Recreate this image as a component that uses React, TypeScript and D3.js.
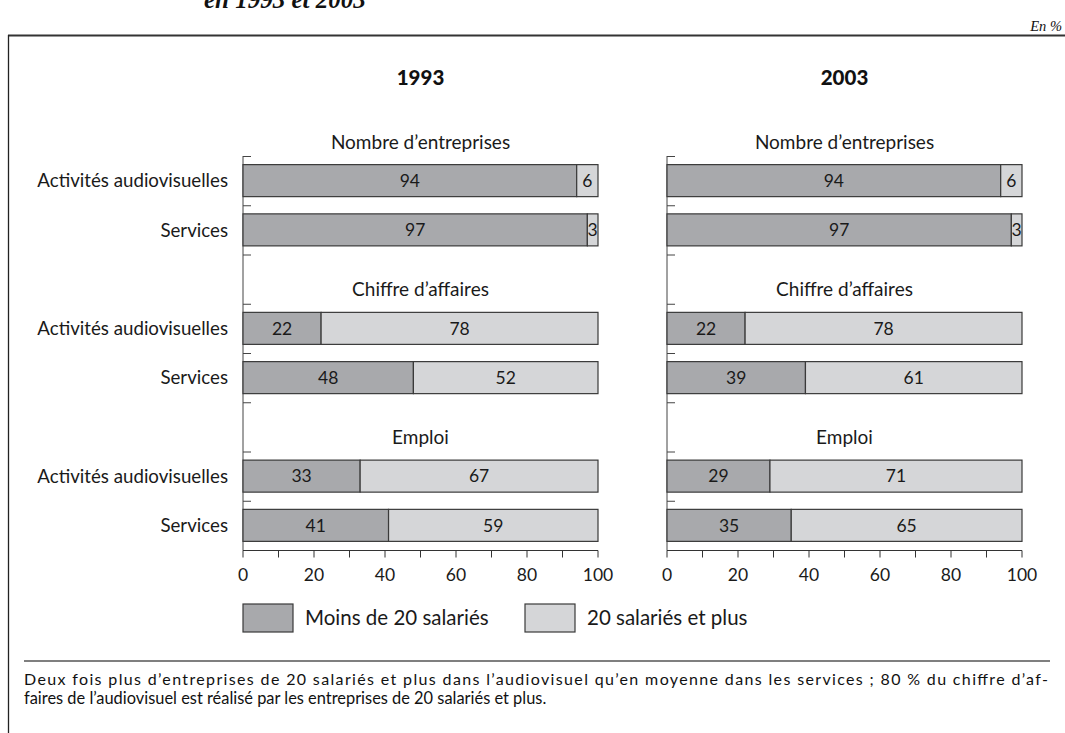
import React from "react";
import * as d3 from "d3";

const years = ["1993", "2003"];
const groups = ["Nombre d’entreprises", "Chiffre d’affaires", "Emploi"];
const categories = ["Activités audiovisuelles", "Services"];
const rowKeys = ["n-aa", "n-s", "gap1", "c-aa", "c-s", "gap2", "e-aa", "e-s"];
const barRows = ["n-aa", "n-s", "c-aa", "c-s", "e-aa", "e-s"];
const small1993 = [94, 97, 22, 48, 33, 41];
const large1993 = [6, 3, 78, 52, 67, 59];
const small2003 = [94, 97, 22, 39, 29, 35];
const large2003 = [6, 3, 78, 61, 71, 65];
const xTicks = [0, 20, 40, 60, 80, 100];
const minorTicks = [0, 10, 20, 30, 40, 50, 60, 70, 80, 90, 100];
const legendLabels = ["Moins de 20 salariés", "20 salariés et plus"];
const footer1 =
  "Deux fois plus d’entreprises de 20 salariés et plus dans l’audiovisuel qu’en moyenne dans les services ; 80\u202f% du chiffre d’af-";
const footer2 = "faires de l’audiovisuel est réalisé par les entreprises de 20 salariés et plus.";

const FONT = "Lato, 'Liberation Sans', sans-serif";
const DARK = "#a8a9ac";
const LIGHT = "#d5d6d8";
const STROKE = "#3a3a3a";

export default function App() {
  const panelX = [243, 667];
  const panelW = 355;
  const y = d3.scaleBand<string>().domain(rowKeys).range([156, 550]).paddingInner(0.35).paddingOuter(0.175);
  const yStep = d3.scaleBand<string>().domain(rowKeys).range([156, 550]);
  const axisY = 550.5;
  const data = [
    { small: small1993, large: large1993 },
    { small: small2003, large: large2003 },
  ];
  const titleRows = ["n-aa", "c-aa", "e-aa"];

  return (
    <svg
      width={1065}
      height={733}
      style={{ position: "absolute", left: 0, top: 0, background: "#fff" }}
      fontFamily={FONT}
    >
      {/* cut-off title (cropped in the reference too) */}
      <text x={204} y={8} fontFamily="'Liberation Serif', serif" fontWeight="bold" fontStyle="italic" fontSize={25} fill="#111">
        en 1993 et 2003
      </text>
      <text x={1062} y={31} textAnchor="end" fontFamily="'Liberation Serif', serif" fontStyle="italic" fontSize={14.5} fill="#111">
        En %
      </text>
      {/* frame */}
      <line x1={8} x2={1065} y1={35.5} y2={35.5} stroke="#333" strokeWidth={2} />
      <line x1={8.5} x2={8.5} y1={35} y2={733} stroke="#222" strokeWidth={1.3} />

      {data.map((d, pi) => {
        const x = d3.scaleLinear().domain([0, 100]).range([panelX[pi], panelX[pi] + panelW]);
        const cx = panelX[pi] + panelW / 2;
        return (
          <g key={pi}>
            <text x={cx} y={85} textAnchor="middle" fontWeight="900" fontSize={20.5} fill="#111">
              {years[pi]}
            </text>
            {groups.map((g, gi) => (
              <text key={g} x={cx} y={(y(titleRows[gi]) as number) - 16} textAnchor="middle" fontSize={19} fill="#1a1a1a">
                {g}
              </text>
            ))}
            {/* y axis */}
            <line x1={x(0)} x2={x(0)} y1={156} y2={axisY} stroke="#444" strokeWidth={1} />
            {rowKeys.map((k) => (
              <line key={k} x1={x(0)} x2={x(0) + 8} y1={(yStep(k) as number) + 0.5} y2={(yStep(k) as number) + 0.5} stroke="#444" strokeWidth={1} />
            ))}
            {/* bars */}
            {barRows.map((k, i) => {
              const by = y(k) as number;
              const bh = y.bandwidth();
              const s = d.small[i];
              const l = d.large[i];
              return (
                <g key={k}>
                  <rect x={x(0)} y={by} width={x(s) - x(0)} height={bh} fill={DARK} stroke={STROKE} strokeWidth={1.2} />
                  <rect x={x(s)} y={by} width={x(100) - x(s)} height={bh} fill={LIGHT} stroke={STROKE} strokeWidth={1.2} />
                  <text x={(x(0) + x(s)) / 2} y={by + bh / 2} dy="0.36em" textAnchor="middle" fontSize={17.5} fill="#1a1a1a">
                    {s}
                  </text>
                  <text x={(x(s) + x(100)) / 2} y={by + bh / 2} dy="0.36em" textAnchor="middle" fontSize={17.5} fill="#1a1a1a">
                    {l}
                  </text>
                  {pi === 0 && (
                    <text x={228} y={by + bh / 2} dy="0.36em" textAnchor="end" fontSize={18.7} fill="#1a1a1a">
                      {categories[i % 2]}
                    </text>
                  )}
                </g>
              );
            })}
            {/* x axis */}
            <line x1={x(0)} x2={x(100)} y1={axisY} y2={axisY} stroke="#333" strokeWidth={1.2} />
            {minorTicks.map((t) => (
              <line key={t} x1={x(t)} x2={x(t)} y1={axisY} y2={axisY + 7} stroke="#333" strokeWidth={1} />
            ))}
            {xTicks.map((t) => (
              <text key={t} x={x(t)} y={581} textAnchor="middle" fontSize={17.5} fill="#1a1a1a">
                {t}
              </text>
            ))}
          </g>
        );
      })}

      {/* legend */}
      {legendLabels.map((lab, i) => {
        const lx = [243, 525][i];
        return (
          <g key={lab}>
            <rect x={lx} y={604} width={50} height={28} fill={i === 0 ? DARK : LIGHT} stroke={STROKE} strokeWidth={1.2} />
            <text x={lx + 62} y={625} fontSize={20.5} fill="#1a1a1a">
              {lab}
            </text>
          </g>
        );
      })}

      {/* footer */}
      <line x1={24} x2={1050} y1={661} y2={661} stroke="#555" strokeWidth={1.5} />
      <text x={24} y={685} fontSize={16} fill="#111" textLength={1024} lengthAdjust="spacing">
        {footer1}
      </text>
      <text x={24} y={704} fontSize={16.4} fill="#111">
        {footer2}
      </text>
    </svg>
  );
}
